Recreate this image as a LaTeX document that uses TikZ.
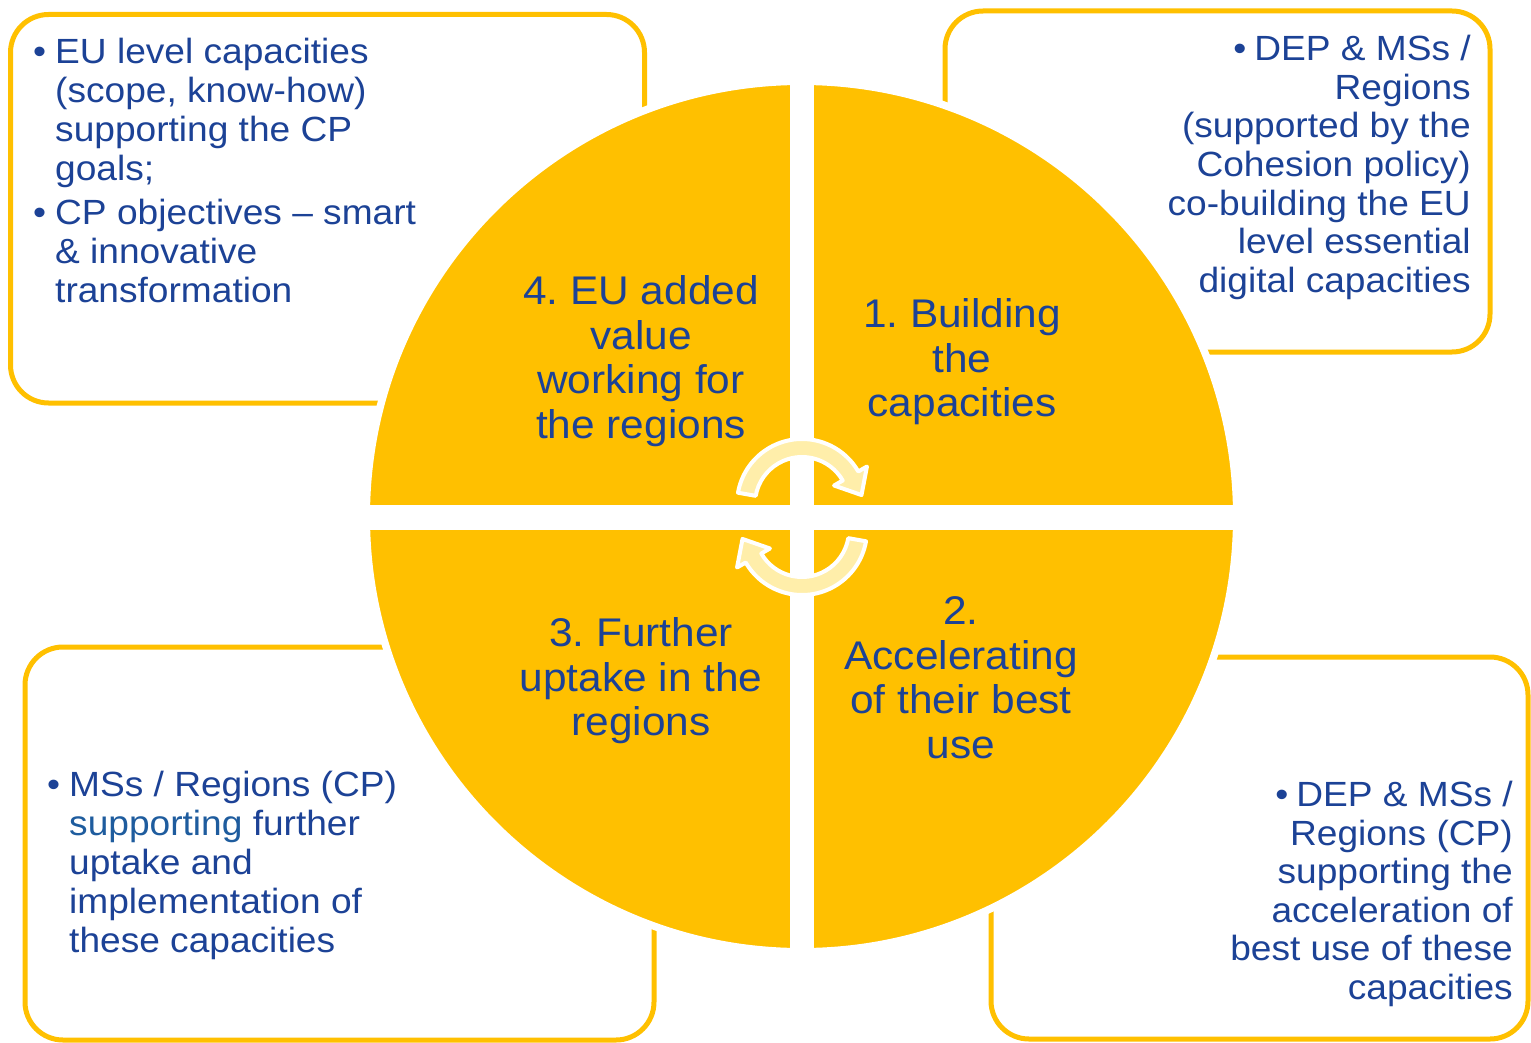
\documentclass[tikz,border=0pt]{standalone}
\usepackage{fontspec}
\setmainfont{Liberation Sans}[FakeStretch=1.06]
\usetikzlibrary{calc}
\definecolor{euyellow}{RGB}{255,192,0}
\definecolor{eublue}{RGB}{28,66,150}
\definecolor{eubluetwo}{RGB}{30,92,158}
\definecolor{arrowfill}{RGB}{255,238,170}
\newcommand\bxfont{\fontsize{35}{39}\selectfont\frenchspacing}
\newcommand\qfont{\fontsize{40}{44.5}\selectfont\frenchspacing}
\begin{document}
\begin{tikzpicture}[x=1pt,y=-1pt,
  infobox/.style={draw=euyellow, line width=5pt, rounded corners=38pt, fill=white, inner sep=0pt, outer sep=0pt},
  leftbox/.style={inner sep=0pt, text=eublue, anchor=base west},
  rightbox/.style={inner sep=0pt, text=eublue, anchor=base east},
  quadtext/.style={inner sep=0pt, text=eublue, anchor=base},
  arrowshape/.style={fill=arrowfill, draw=white, line width=4pt, line join=round}]
\useasboundingbox (0,0) rectangle (1531,1043);

% boxes
\node[infobox, minimum width=634pt, minimum height=388.5pt] (tlbox) at (327.5,208.75) {};
\node[infobox, minimum width=545pt, minimum height=341pt] (trbox) at (1217.5,181.5) {};
\node[infobox, minimum width=629pt, minimum height=393pt] (blbox) at (339.5,843.5) {};
\node[infobox, minimum width=537pt, minimum height=382pt] (brbox) at (1259.5,848) {};

% disc
\node[circle, draw=white, line width=7.5pt, fill=euyellow, minimum size=870.5pt, inner sep=0pt, outer sep=0pt] (disc) at (801.5,516.5) {};
\fill[white] (789.5,80) rectangle (814,955);
\fill[white] (365,505) rectangle (1240,529.5);

% circular arrows
\coordinate (ua) at (802,504);
\coordinate (la) at (802,530);
\filldraw[arrowshape] ($(ua)+(190:65)$) arc[start angle=190, end angle=330, radius=65]
  -- ($(ua)+(330:75)$) -- ($(ua)+(330:56)+(60:22)$) -- ($(ua)+(330:37)$)
  -- ($(ua)+(330:47)$) arc[start angle=330, end angle=190, radius=47] -- cycle;
\filldraw[arrowshape] ($(la)+(10:65)$) arc[start angle=10, end angle=150, radius=65]
  -- ($(la)+(150:75)$) -- ($(la)+(150:56)+(240:22)$) -- ($(la)+(150:37)$)
  -- ($(la)+(150:47)$) arc[start angle=150, end angle=10, radius=47] -- cycle;

% quadrant texts
\node[quadtext] (q4) at (641,304.7) {\parbox[t]{330pt}{\centering\qfont 4. EU added\\value\\working for\\the regions}};
\node[quadtext] (q1) at (962,327.7) {\parbox[t]{330pt}{\centering\qfont 1. Building\\the\\capacities}};
\node[quadtext] (q3) at (641,646.7) {\parbox[t]{330pt}{\centering\qfont 3. Further\\uptake in the\\regions}};
\node[quadtext] (q2) at (961,624.7) {\parbox[t]{330pt}{\centering\qfont 2.\\Accelerating\\of their best\\use}};

% box texts
\node[leftbox] (tla) at (55,63.5) {\parbox[t]{450pt}{\raggedright\bxfont\leavevmode\llap{•\hspace{9pt}}EU level capacities\\(scope, know-how)\\supporting the CP\\goals;}};
\node[leftbox] (tlb) at (55,224.5) {\parbox[t]{450pt}{\raggedright\bxfont\leavevmode\llap{•\hspace{9pt}}CP objectives – smart\\\& innovative\\transformation}};
\node[rightbox] (tra) at (1471,60.5) {\parbox[t]{520pt}{\raggedleft\fontsize{35}{38.7}\selectfont\frenchspacing •\hspace{8pt}DEP \& MSs /\\Regions\\(supported by the\\Cohesion policy)\\co-building the EU\\level essential\\digital capacities}};
\node[rightbox] (bra) at (1513,806.5) {\parbox[t]{520pt}{\raggedleft\fontsize{35}{38.6}\selectfont\frenchspacing •\hspace{8pt}DEP \& MSs /\\Regions (CP)\\supporting the\\acceleration of\\best use of these\\capacities}};
\node[leftbox] (bla) at (69,796.5) {\parbox[t]{520pt}{\raggedright\bxfont\leavevmode\llap{•\hspace{9pt}}MSs / Regions (CP)\\{\color{eubluetwo}supporting} further\\uptake and\\implementation of\\these capacities}};
\end{tikzpicture}
\end{document}
